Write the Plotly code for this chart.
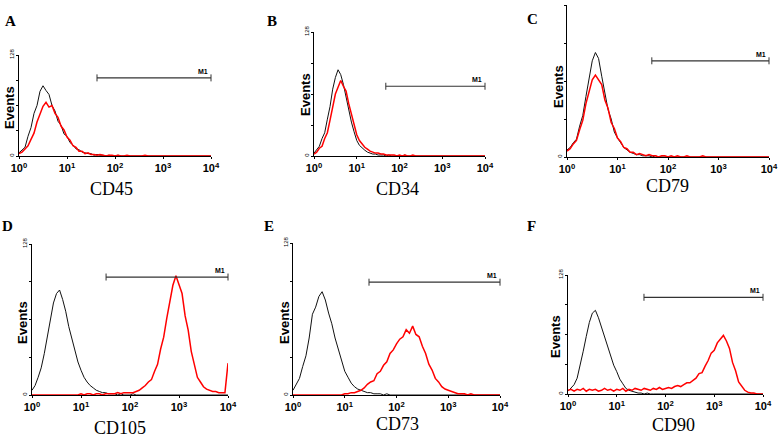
import plotly.graph_objects as go

W, H = 778, 438

# Histogram bins: 1024-channel log scale (4 decades), one point every 16 channels
CHANNELS = list(range(0, 1025, 16))
DECADE_TICKS = [0, 256, 512, 768, 1024]
DECADE_LABELS = ["10<sup>0</sup>", "10<sup>1</sup>", "10<sup>2</sup>", "10<sup>3</sup>", "10<sup>4</sup>"]

PANEL_LETTERS = ["A", "B", "C", "D", "E", "F"]
MARKER_NAMES = ["CD45", "CD34", "CD79", "CD105", "CD73", "CD90"]

# Isotype control (black) counts per bin
ISO_CD45 = [4, 7, 11, 25, 36, 54, 64, 82, 89, 83, 78, 64, 57, 44, 39, 28,
            25, 17, 14, 9, 8, 5, 4, 3, 3, 1, 2, 1, 1, 0, 1, 0,
            0, 1, 0, 0, 0, 0, 0, 0, 0, 0, 0, 0, 0, 0, 0, 0,
            0, 0, 0, 0, 0, 0, 0, 0, 0, 0, 0, 0, 0, 0, 0, 0,
            0]
ISO_CD34 = [3, 6, 10, 18, 24, 38, 51, 69, 81, 89, 84, 74, 60, 46, 35, 25,
            16, 11, 8, 6, 4, 3, 2, 2, 1, 1, 1, 0, 1, 0, 0, 0,
            0, 0, 1, 0, 0, 0, 0, 0, 0, 0, 0, 0, 0, 0, 0, 0,
            0, 0, 0, 0, 0, 0, 0, 0, 0, 0, 0, 0, 0, 0, 0, 0,
            0]
ISO_CD79 = [6, 8, 12, 15, 26, 35, 51, 65, 81, 88, 83, 68, 55, 40, 32, 21,
            16, 12, 8, 6, 4, 3, 2, 2, 1, 1, 1, 0, 1, 0, 0, 0,
            0, 0, 0, 0, 0, 0, 0, 0, 0, 0, 0, 0, 0, 0, 0, 0,
            0, 0, 0, 0, 0, 0, 0, 0, 0, 0, 0, 0, 0, 0, 0, 0,
            0]
ISO_CD105 = [4, 8, 15, 23, 35, 50, 66, 78, 86, 89, 81, 71, 58, 48, 38, 28,
             21, 15, 11, 8, 6, 4, 3, 2, 2, 1, 1, 1, 0, 1, 0, 0,
             0, 1, 0, 0, 0, 0, 0, 0, 0, 0, 0, 0, 0, 0, 0, 0,
             0, 0, 0, 0, 0, 0, 0, 0, 0, 0, 0, 0, 0, 0, 0, 0,
             0]
ISO_CD73 = [4, 9, 14, 24, 33, 48, 68, 74, 83, 87, 80, 69, 60, 48, 39, 28,
            20, 15, 10, 7, 5, 4, 3, 2, 2, 1, 1, 1, 0, 1, 0, 0,
            0, 0, 0, 0, 0, 0, 0, 0, 0, 0, 0, 0, 0, 0, 0, 0,
            0, 0, 0, 0, 0, 0, 0, 0, 0, 0, 0, 0, 0, 0, 0, 0,
            0]
ISO_CD90 = [3, 6, 10, 17, 30, 46, 62, 77, 87, 90, 82, 72, 60, 51, 40, 31,
            24, 16, 11, 6, 4, 3, 2, 1, 1, 0, 1, 0, 0, 0, 0, 0,
            0, 0, 0, 0, 0, 0, 0, 0, 0, 0, 0, 0, 0, 0, 0, 0,
            0, 0, 0, 0, 0, 0, 0, 0, 0, 0, 0, 0, 0, 0, 0, 0,
            0]

# Stained sample (red) counts per bin
STAIN_CD45 = [3, 5, 9, 13, 21, 29, 43, 52, 63, 68, 62, 64, 54, 49, 38, 33,
              24, 20, 13, 11, 6, 6, 3, 4, 2, 2, 1, 2, 1, 0, 1, 1,
              0, 1, 0, 0, 1, 0, 0, 0, 0, 0, 1, 0, 0, 0, 0, 0,
              0, 0, 0, 0, 0, 0, 0, 0, 0, 0, 0, 0, 0, 0, 0, 0,
              0]
STAIN_CD34 = [2, 4, 8, 10, 18, 24, 37, 49, 64, 71, 78, 72, 67, 54, 44, 32,
              22, 16, 12, 9, 7, 5, 4, 3, 3, 2, 2, 1, 1, 1, 1, 0,
              1, 0, 1, 0, 0, 1, 0, 0, 0, 0, 0, 0, 0, 0, 0, 0,
              0, 0, 0, 0, 0, 0, 0, 0, 0, 0, 0, 0, 0, 0, 0, 0,
              0]
STAIN_CD79 = [5, 7, 11, 14, 23, 31, 45, 55, 65, 69, 65, 61, 48, 41, 29, 24,
              16, 13, 8, 7, 4, 4, 2, 3, 2, 1, 2, 1, 1, 0, 1, 1,
              0, 1, 0, 1, 0, 0, 1, 0, 0, 0, 0, 1, 0, 0, 0, 0,
              0, 0, 0, 0, 0, 0, 0, 0, 0, 0, 0, 0, 0, 0, 0, 0,
              0]
STAIN_CD105 = [0, 0, 0, 0, 0, 0, 0, 0, 0, 0, 0, 0, 0, 0, 0, 0,
               1, 0, 1, 1, 0, 1, 1, 0, 1, 1, 1, 1, 2, 1, 2, 2,
               2, 2, 3, 4, 6, 8, 11, 13, 20, 26, 39, 49, 65, 79, 93, 101,
               94, 86, 67, 55, 37, 26, 15, 11, 7, 5, 4, 3, 3, 2, 2, 2,
               27]
STAIN_CD73 = [0, 0, 0, 0, 0, 0, 0, 0, 0, 0, 0, 0, 0, 0, 0, 0,
              1, 1, 2, 2, 3, 4, 6, 9, 11, 12, 18, 20, 25, 28, 35, 38,
              43, 47, 49, 55, 52, 58, 51, 49, 41, 35, 26, 21, 14, 11, 7, 5,
              4, 3, 2, 1, 1, 1, 0, 1, 0, 0, 0, 0, 0, 0, 0, 0,
              0]
STAIN_CD90 = [4, 5, 3, 5, 4, 6, 3, 5, 4, 5, 3, 4, 6, 4, 5, 3,
              5, 4, 6, 3, 5, 4, 6, 5, 4, 6, 5, 4, 6, 5, 7, 5,
              6, 7, 6, 8, 9, 8, 10, 12, 12, 15, 17, 22, 23, 30, 36, 44,
              47, 55, 59, 63, 57, 49, 34, 25, 13, 8, 4, 2, 1, 1, 0, 0,
              0]

ISOTYPE = [ISO_CD45, ISO_CD34, ISO_CD79, ISO_CD105, ISO_CD73, ISO_CD90]
STAINED = [STAIN_CD45, STAIN_CD34, STAIN_CD79, STAIN_CD105, STAIN_CD73, STAIN_CD90]

# M1 gate: start channel and height (events)
M1_START = [416, 430, 430, 387, 376, 399]
M1_END = [1024, 1024, 1024, 1024, 1024, 1024]
M1_LEVEL = [99, 72, 81, 100, 95, 104]

# ---------------- layout (pixel boxes of each plot area) ----------------
PLOT_BOX = [  # left, right, top, bottom in px
    (19, 211, 55, 156),
    (314, 485, 32, 156),
    (567, 769, 5, 157),
    (32, 228, 244, 395),
    (293, 500, 243, 395),
    (568, 763, 275, 394),
]
LETTER_POS = [(10, 21), (272, 21), (532, 19), (7, 226), (269, 226), (531, 226)]
TITLE_POS = [(111, 189), (398, 189), (667, 186), (120, 428), (398, 424), (673, 425)]
EVENTS_POS = [(9, 108), (305, 95), (558, 87), (22, 323), (284, 323), (555, 337)]


def px(x):
    return x / W


def py(y):
    return 1 - y / H


fig = go.Figure()
layout_axes = {}
annotations = []

for k in range(6):
    sfx = "" if k == 0 else str(k + 1)
    xr, yr = "x" + sfx, "y" + sfx
    fig.add_trace(go.Scatter(x=CHANNELS, y=ISOTYPE[k], mode="lines",
                             line=dict(color="#111111", width=1),
                             xaxis=xr, yaxis=yr, showlegend=False, hoverinfo="skip"))
    fig.add_trace(go.Scatter(x=CHANNELS, y=STAINED[k], mode="lines",
                             line=dict(color="#ff0000", width=1.5),
                             xaxis=xr, yaxis=yr, showlegend=False, hoverinfo="skip"))
    fig.add_trace(go.Scatter(x=[M1_START[k], M1_END[k]], y=[M1_LEVEL[k], M1_LEVEL[k]],
                             mode="lines+markers",
                             line=dict(color="#333333", width=1.2),
                             marker=dict(symbol="line-ns", size=5,
                                         line=dict(width=1, color="#333333")),
                             xaxis=xr, yaxis=yr, showlegend=False, hoverinfo="skip",
                             cliponaxis=False))
    l, r, t, b = PLOT_BOX[k]
    layout_axes["xaxis" + sfx] = dict(
        domain=[px(l), px(r)], anchor=yr, range=[0, 1024], automargin=False,
        tickvals=DECADE_TICKS, ticktext=DECADE_LABELS,
        showline=True, linecolor="black", linewidth=1,
        ticks="outside", ticklen=2, tickcolor="black",
        tickfont=dict(family="Liberation Sans", size=11, color="black", weight="bold"),
        showgrid=False, zeroline=False, fixedrange=True)
    layout_axes["yaxis" + sfx] = dict(
        domain=[py(b), py(t)], anchor=xr, range=[0, 128], automargin=False,
        tickvals=[0, 64, 128], ticktext=["0", "", "128"], tickangle=-90,
        showline=True, linecolor="black", linewidth=1,
        ticks="outside", ticklen=2, tickcolor="black",
        tickfont=dict(family="Liberation Sans", size=6, color="black"),
        minor=dict(tickvals=[32, 96], ticks="outside", ticklen=2, tickcolor="black"),
        showgrid=False, zeroline=False, fixedrange=True)

    annotations.append(dict(x=M1_END[k], y=M1_LEVEL[k], xref=xr, yref=yr,
                            text="M1", showarrow=False, xanchor="right", yanchor="bottom",
                            xshift=-1, yshift=1,
                            font=dict(family="Liberation Sans", size=7, color="black", weight="bold")))
    lx, ly = LETTER_POS[k]
    annotations.append(dict(x=px(lx), y=py(ly), xref="paper", yref="paper",
                            text=PANEL_LETTERS[k], showarrow=False,
                            xanchor="center", yanchor="middle",
                            font=dict(family="Liberation Serif", size=15, color="black", weight="bold")))
    tx, ty = TITLE_POS[k]
    annotations.append(dict(x=px(tx), y=py(ty), xref="paper", yref="paper",
                            text=MARKER_NAMES[k], showarrow=False,
                            xanchor="center", yanchor="middle",
                            font=dict(family="Liberation Serif", size=18, color="black")))
    ex, ey = EVENTS_POS[k]
    annotations.append(dict(x=px(ex), y=py(ey), xref="paper", yref="paper",
                            text="Events", showarrow=False, textangle=-90,
                            xanchor="center", yanchor="middle",
                            font=dict(family="Liberation Sans", size=13, color="black", weight="bold")))

fig.update_layout(
    width=W, height=H, autosize=False,
    margin=dict(l=0, r=0, t=0, b=0),
    paper_bgcolor="white", plot_bgcolor="white",
    showlegend=False,
    annotations=annotations,
    **layout_axes,
)

fig.write_html("out.html", config={"displayModeBar": False},
               post_script="document.body.style.margin='0';document.body.style.overflow='hidden';")
